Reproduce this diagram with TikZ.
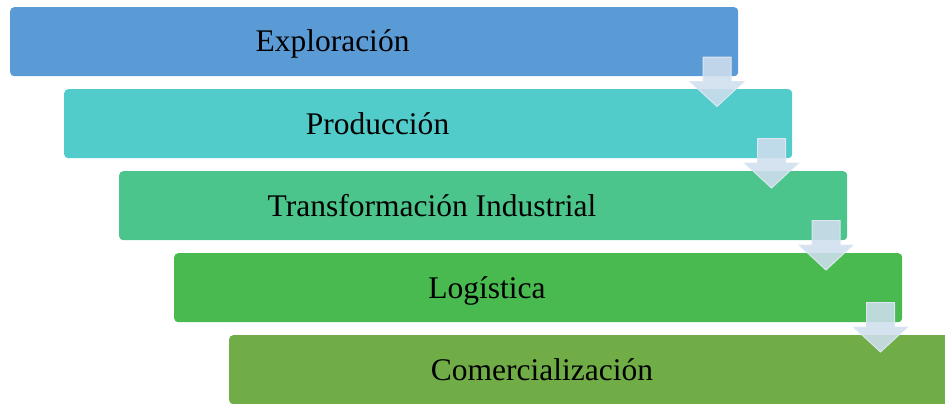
\documentclass[tikz,border=0pt]{standalone}
\usepackage{fontspec}
\setmainfont{Liberation Serif}
\definecolor{cA}{HTML}{5B9BD5}
\definecolor{cB}{HTML}{52CBCB}
\definecolor{cC}{HTML}{4CC58C}
\definecolor{cD}{HTML}{48BA4F}
\definecolor{cE}{HTML}{70AD47}
\definecolor{arrfill}{HTML}{CFDEEE}
\definecolor{arredge}{HTML}{DCE6F2}
\tikzset{
  stage/.style={rounded corners=4bp, minimum width=728bp, minimum height=69bp, inner sep=0pt, draw=none},
  lbl/.style={font=\fontsize{31.5bp}{36bp}\selectfont, text=black, inner sep=0pt, anchor=base},
  downarr/.style={fill=arrfill, fill opacity=0.88, draw=arredge, line width=1bp, line join=miter}
}
\begin{document}
\begin{tikzpicture}[x=1bp,y=-1bp]
\useasboundingbox (0,0) rectangle (945,403);
\node[stage, fill=cA, anchor=north west] (s1) at (10,7) {};
\node[stage, fill=cB, anchor=north west] (s2) at (64,89) {};
\node[stage, fill=cC, anchor=north west] (s3) at (119,171) {};
\node[stage, fill=cD, anchor=north west] (s4) at (174,253) {};
\node[stage, fill=cE, anchor=north west] (s5) at (229,335) {};
\node[lbl] (t1) at (332.5,51) {Exploración};
\node[lbl] (t2) at (377.5,134) {Producción};
\node[lbl] (t3) at (432,216) {Transformación Industrial};
\node[lbl] (t4) at (487,298) {Logística};
\node[lbl] (t5) at (542,380) {Comercialización};
\foreach \cx/\ty in {717/57, 771.5/138.5, 826/220.5, 880.5/302.5}{
  \draw[downarr] (\cx-14,\ty) -- (\cx+14,\ty) -- (\cx+14,\ty+24.5) -- (\cx+27,\ty+24.5)
     -- (\cx,\ty+49.5) -- (\cx-27,\ty+24.5) -- (\cx-14,\ty+24.5) -- cycle;
}
\end{tikzpicture}
\end{document}
